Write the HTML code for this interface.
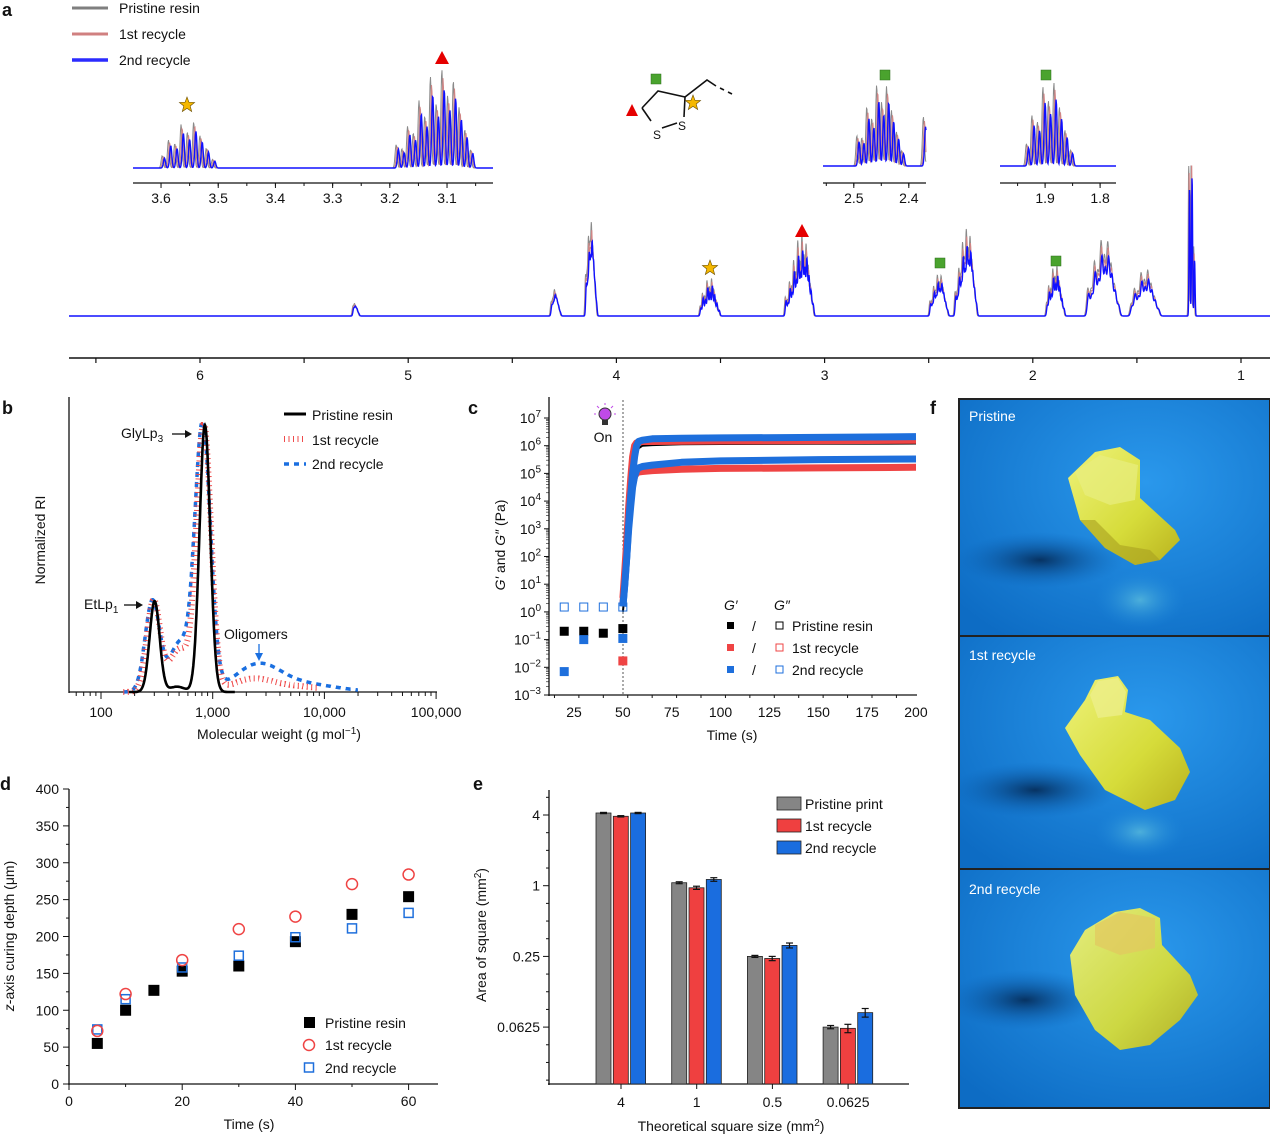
<!DOCTYPE html>
<html><head><meta charset="utf-8">
<style>
html,body{margin:0;padding:0;background:#fff;}
svg{display:block;font-family:"Liberation Sans",Arial,sans-serif;}
text{fill:#111;}
</style></head>
<body>
<svg id="fig" width="1270" height="1134" viewBox="0 0 1270 1134" xmlns="http://www.w3.org/2000/svg">
<defs>
<radialGradient id="bg1" cx="0.6" cy="0.35" r="0.8"><stop offset="0" stop-color="#2a98ec"/><stop offset="1" stop-color="#0d6cc4"/></radialGradient>
<linearGradient id="boat" x1="0" y1="0" x2="1" y2="1"><stop offset="0" stop-color="#eef27a"/><stop offset="0.6" stop-color="#d6dc3a"/><stop offset="1" stop-color="#b9b21e"/></linearGradient>
<radialGradient id="shad" cx="0.5" cy="0.5" r="0.5"><stop offset="0" stop-color="#052a55" stop-opacity="0.9"/><stop offset="1" stop-color="#0b62b8" stop-opacity="0"/></radialGradient>
<radialGradient id="refl" cx="0.5" cy="0.5" r="0.5"><stop offset="0" stop-color="#6fd0e0" stop-opacity="0.6"/><stop offset="1" stop-color="#1f8ce0" stop-opacity="0"/></radialGradient>
<clipPath id="c1"><rect x="960" y="400" width="309" height="235"/></clipPath>
<clipPath id="c2"><rect x="960" y="637" width="309" height="231"/></clipPath>
<clipPath id="c3"><rect x="960" y="870" width="309" height="237"/></clipPath>
</defs>

<text x="2" y="16" font-size="18" font-weight="bold">a</text>
<text x="2" y="414" font-size="18" font-weight="bold">b</text>
<text x="468" y="414" font-size="18" font-weight="bold">c</text>
<text x="930" y="414" font-size="18" font-weight="bold">f</text>
<text x="0" y="790" font-size="18" font-weight="bold">d</text>
<text x="473" y="790" font-size="18" font-weight="bold">e</text>

<g>
<line x1="72" y1="8" x2="108" y2="8" stroke="#7f7f7f" stroke-width="3"/>
<text x="119" y="13" font-size="14">Pristine resin</text>
<line x1="72" y1="34" x2="108" y2="34" stroke="#d08080" stroke-width="3"/>
<text x="119" y="39" font-size="14">1st recycle</text>
<line x1="72" y1="60" x2="108" y2="60" stroke="#2b2bff" stroke-width="3.5"/>
<text x="119" y="65" font-size="14">2nd recycle</text>
</g>

<g stroke="#111" stroke-width="1.6" fill="none">
<polyline points="642,108 658,91 685,97 684,117"/>
<polyline points="642,108 651,121"/>
<line x1="662" y1="128" x2="677" y2="123"/>
<polyline points="685,97 707,80 716,86"/>
<line x1="720" y1="88" x2="724" y2="90"/><line x1="728" y1="92" x2="732" y2="94"/>
</g>
<text x="653" y="139" font-size="12">S</text>
<text x="678" y="130" font-size="12">S</text>
<rect x="651" y="74" width="10" height="10" fill="#4aa32e" stroke="#2d6d1a" stroke-width="0.5"/>
<polygon points="632,104 638,116 626,116" fill="#e50000"/>
<g id="nmr"></g>
<g id="marks-a"></g>

<g id="gpc"></g>
<g id="rheo"></g>
<g id="depth"></g>
<g id="bars"></g>

<g>
<rect x="958" y="398" width="312" height="711" fill="#222"/>
<g clip-path="url(#c1)">
<rect x="960" y="400" width="309" height="235" fill="url(#bg1)"/>
<ellipse cx="1040" cy="560" rx="85" ry="28" fill="url(#shad)"/>
<ellipse cx="1140" cy="600" rx="45" ry="30" fill="url(#refl)"/>
<path d="M1068,478 L1095,452 L1120,447 L1140,460 L1140,498 L1175,530 L1180,540 L1160,560 L1135,565 L1105,548 L1080,520 Z" fill="url(#boat)"/>
<path d="M1075,472 L1100,455 L1138,465 L1135,500 L1110,505 L1085,495 Z" fill="#e8ee80" opacity="0.7"/>
<path d="M1080,520 L1105,548 L1135,565 L1160,560 L1150,550 L1120,545 L1095,520 Z" fill="#a8a020" opacity="0.6"/>
<text x="969" y="421" font-size="14" style="fill:#fff">Pristine</text>
</g>
<g clip-path="url(#c2)">
<rect x="960" y="637" width="309" height="231" fill="url(#bg1)"/>
<ellipse cx="1035" cy="790" rx="85" ry="28" fill="url(#shad)"/>
<ellipse cx="1140" cy="832" rx="45" ry="26" fill="url(#refl)"/>
<path d="M1085,700 L1095,680 L1118,676 L1128,690 L1125,712 L1150,720 L1180,748 L1190,772 L1175,800 L1145,810 L1105,790 L1080,755 L1065,728 Z" fill="url(#boat)"/>
<path d="M1090,695 L1098,681 L1118,678 L1126,692 L1122,715 L1098,718 Z" fill="#eef090" opacity="0.7"/>
<text x="969" y="660" font-size="14" style="fill:#fff">1st recycle</text>
</g>
<g clip-path="url(#c3)">
<rect x="960" y="870" width="309" height="237" fill="url(#bg1)"/>
<ellipse cx="1025" cy="1000" rx="80" ry="30" fill="url(#shad)"/>
<path d="M1085,930 L1115,912 L1140,908 L1160,918 L1162,945 L1190,975 L1198,995 L1180,1020 L1150,1045 L1120,1050 L1095,1030 L1075,995 L1070,955 Z" fill="url(#boat)" opacity="0.95"/>
<path d="M1095,925 L1120,912 L1155,918 L1155,948 L1120,955 L1095,945 Z" fill="#e3c860" opacity="0.7"/>
<text x="969" y="894" font-size="14" style="fill:#fff">2nd recycle</text>
</g>
</g>
</svg>

<script>
// ================= Panel a: NMR data =================
const groupCenters = [5.25, 4.29, 4.12, 3.55, 3.12, 2.45, 2.32, 1.89, 1.66, 1.46, 1.235];
const groupHeights = [12, 20, 72, 32, 72, 34, 72, 42, 64, 38, 240];
const groupCounts  = [4, 6, 8, 9, 14, 10, 12, 9, 10, 9, 3];
const groupSpacing = [0.008, 0.008, 0.007, 0.011, 0.010, 0.009, 0.009, 0.010, 0.016, 0.016, 0.012];
const groupWidth   = [0.0018, 0.0018, 0.0015, 0.0018, 0.0018, 0.0018, 0.0018, 0.0018, 0.003, 0.003, 0.0012];
const linePattern = [0.35,0.6,0.8,1,0.75,0.95,0.6,0.85,0.5,0.7,0.4,0.55,0.3,0.45,0.6,0.4];
const seriesNames = ['pristine','first-recycle','second-recycle'];
const seriesShift = [0.004, 0.002, 0];
const seriesScale = [1.15, 1.05, 0.92];
const seriesColor = ['#8a8a8a','#d08585','#1010ff'];
const seriesWidth = [1, 1, 1.4];
const mainTicks = [6,5,4,3,2,1];
const inset1Ticks = [3.6,3.5,3.4,3.3,3.2,3.1];
const inset2Ticks = [2.5,2.4];
const inset3Ticks = [1.9,1.8];

const NS='http://www.w3.org/2000/svg';
function mk(tag, attrs, parent){const e=document.createElementNS(NS,tag);for(const k in attrs)e.setAttribute(k,attrs[k]);if(parent)parent.appendChild(e);return e;}
function txt(parent,x,y,s,size,anchor){const t=mk('text',{x:x,y:y,'font-size':size||14,'text-anchor':anchor||'middle'},parent);t.textContent=s;return t;}

function specVal(ppm, si, widthScale){
  let v=0;
  for(let g=0; g<groupCenters.length; g++){
    const n=groupCounts[g], sp=groupSpacing[g], c=groupCenters[g]+seriesShift[si];
    if(Math.abs(ppm-c) > n*sp) continue;
    const w=groupWidth[g]*widthScale;
    for(let k=0;k<n;k++){
      const off=k-(n-1)/2;
      const p=c+off*sp;
      const d=(ppm-p)/w;
      if(Math.abs(d)>5) continue;
      const env=Math.exp(-0.5*Math.pow(off/(n/2.6),2));
      v+=groupHeights[g]*seriesScale[si]*linePattern[k%linePattern.length]*env*Math.exp(-0.5*d*d);
    }
  }
  return v;
}
const nmr=document.getElementById('nmr');
function drawSpectrum(x0,x1,ppmAtX0,pxPerPpm,baseY,hScale,widthScale,step,name){
  const g=mk('g',{},nmr);
  
  
  for(let si=0; si<3; si++){
    let d='';
    for(let x=x0; x<=x1; x+=step){
      const ppm=ppmAtX0-(x-x0)/pxPerPpm;
      const y=baseY-Math.min(specVal(ppm,si,widthScale)*hScale, 150);
      d+=(d?'L':'M')+x.toFixed(2)+','+y.toFixed(2);
    }
    const p=mk('path',{d:d,fill:'none',stroke:seriesColor[si],'stroke-width':seriesWidth[si]},g);
    
    
  }
}
const mainX=p=>200+(6-p)*208.2;
drawSpectrum(69,1270,6+(200-69)/208.2,208.2,316,1.05,2.0,0.25,'nmr-main-spectrum');
const ax=mk('g',{},nmr);


mk('line',{x1:69,y1:358,x2:1270,y2:358,stroke:'#111','stroke-width':1.5},ax);
for(let v=6.5; v>=0.9; v-=0.5){const x=mainX(v); if(x<69||x>1270)continue; mk('line',{x1:x,y1:358,x2:x,y2:363,stroke:'#111','stroke-width':1.2},ax);}
mainTicks.forEach(t=>txt(ax,mainX(t),380,String(t),14));

function drawInset(xa,xb,ppmA,pxPer,baseY,axisY,hScale,ticks,name){
  drawSpectrum(xa,xb,ppmA,pxPer,baseY,hScale,1.0,0.5,name);
  const g=mk('g',{},nmr);
  
  
  mk('line',{x1:xa,y1:axisY,x2:xb,y2:axisY,stroke:'#111','stroke-width':1.2},g);
  const X=p=>xa+(ppmA-p)*pxPer;
  for(let v=Math.floor(ppmA*20)/20; X(v)<=xb; v-=0.05){if(X(v)<xa)continue;mk('line',{x1:X(v),y1:axisY,x2:X(v),y2:axisY+3,stroke:'#111'},g);}
  ticks.forEach(t=>{mk('line',{x1:X(t),y1:axisY,x2:X(t),y2:axisY+5,stroke:'#111'},g);txt(g,X(t),203,t.toFixed(1),14);});
}
drawInset(133,493,3.649,572,168,183,1.3,inset1Ticks,'nmr-inset-3p1-3p6');
drawInset(823,926,2.556,550,166,183,2.2,inset2Ticks,'nmr-inset-2p4-2p5');
drawInset(1000,1116,1.982,550,166,183,1.8,inset3Ticks,'nmr-inset-1p8-1p9');

const ma=document.getElementById('marks-a');
function star(cx,cy,r){let pts=[];for(let i=0;i<10;i++){const a=-Math.PI/2+i*Math.PI/5;const rr=i%2?r*0.42:r;pts.push((cx+rr*Math.cos(a)).toFixed(1)+','+(cy+rr*Math.sin(a)).toFixed(1));}const s=mk('polygon',{points:pts.join(' '),fill:'#f5b800',stroke:'#6b4e00','stroke-width':0.6},ma);}
function tri(cx,cy){const s=mk('polygon',{points:`${cx},${cy-7} ${cx+7},${cy+6} ${cx-7},${cy+6}`,fill:'#e50000'},ma);}
function sq(cx,cy){const s=mk('rect',{x:cx-5,y:cy-5,width:10,height:10,fill:'#4aa32e',stroke:'#2d6d1a','stroke-width':0.5},ma);}
star(187,105,8); tri(442,58); star(693,103,8);
star(710,268,8); tri(802,231); sq(940,263); sq(1056,261);
sq(885,75); sq(1046,75);

// ================= Panel b: GPC =================
const gpcPeakLogM   = { pristine:[2.48,2.93,2.68], first:[2.47,2.92,2.70,3.35,3.75], second:[2.46,2.91,2.70,3.40,3.80] };
const gpcPeakHeight = { pristine:[0.34,1.0,0.02], first:[0.34,1.0,0.16,0.045,0.02], second:[0.34,1.0,0.18,0.095,0.03] };
const gpcPeakWidth  = { pristine:[0.045,0.048,0.07], first:[0.06,0.065,0.09,0.18,0.25], second:[0.065,0.07,0.09,0.2,0.3] };
const gpcRange = { pristine:[2.25,3.2], first:[2.2,3.95], second:[2.2,4.3] };
const gpcTicks=[100,1000,10000,100000];
const gpcTickLabels=['100','1,000','10,000','100,000'];
(function(){
  const g=document.getElementById('gpc');
  const X=lm=>101+(lm-2)*111.7, Y=v=>692-v*267;
  mk('line',{x1:69,y1:397,x2:69,y2:693,stroke:'#111','stroke-width':1.3},g);
  const xa=mk('line',{x1:69,y1:692,x2:437,y2:692,stroke:'#111','stroke-width':1.3},g);
   
  for(let dec=1;dec<=5;dec++)for(let m=1;m<10;m++){const lm=dec+Math.log10(m);const x=X(lm);if(x<69||x>437)continue;mk('line',{x1:x,y1:692,x2:x,y2:m===1?699:696,stroke:'#111'},g);}
  gpcTicks.forEach((t,i)=>txt(g,X(Math.log10(t)),717,gpcTickLabels[i],14));
  const xl=mk('text',{x:279,y:739,'font-size':14,'text-anchor':'middle'},g);xl.innerHTML='Molecular weight (g mol<tspan dy="-5" font-size="10">−1</tspan><tspan dy="5">)</tspan>';
   
  const yl=mk('text',{x:0,y:0,'font-size':14,'text-anchor':'middle',transform:'translate(45,540) rotate(-90)'},g);yl.textContent='Normalized RI';
   
  const styles={pristine:{stroke:'#000','stroke-width':2.6},first:{stroke:'#ef4b4b','stroke-width':6,'stroke-dasharray':'1 3.5'},second:{stroke:'#1a6fe0','stroke-width':3.5,'stroke-dasharray':'5 5'}};
  ['second','first','pristine'].forEach(s=>{
    let d='';const [a,b]=gpcRange[s];
    for(let lm=a;lm<=b;lm+=0.004){let v=0;gpcPeakLogM[s].forEach((c,i)=>{const z=(lm-c)/gpcPeakWidth[s][i];v+=gpcPeakHeight[s][i]*Math.exp(-0.5*z*z);});d+=(d?'L':'M')+X(lm).toFixed(1)+','+Y(Math.min(v,1)).toFixed(1);}
    const p=mk('path',Object.assign({d:d,fill:'none'},styles[s]),g);
     
  });
  const t1=mk('text',{x:121,y:438,'font-size':14},g);t1.innerHTML='GlyLp<tspan dy="4" font-size="10">3</tspan>';
  
  mk('line',{x1:172,y1:434,x2:188,y2:434,stroke:'#111','stroke-width':1.3},g);mk('polygon',{points:'192,434 185,430 185,438',fill:'#111'},g);
  const t2=mk('text',{x:84,y:609,'font-size':14},g);t2.innerHTML='EtLp<tspan dy="4" font-size="10">1</tspan>';
  
  mk('line',{x1:124,y1:605,x2:139,y2:605,stroke:'#111','stroke-width':1.3},g);mk('polygon',{points:'143,605 136,601 136,609',fill:'#111'},g);
  const t3=txt(g,224,639,'Oligomers',14,'start');
  mk('line',{x1:259,y1:644,x2:259,y2:656,stroke:'#1a6fe0','stroke-width':1.3},g);mk('polygon',{points:'259,661 255,653 263,653',fill:'#1a6fe0'},g);
  const lg=mk('g',{},g);
  mk('line',{x1:284,y1:414,x2:306,y2:414,stroke:'#000','stroke-width':3},lg);txt(lg,312,420,'Pristine resin',14,'start');
  mk('line',{x1:284,y1:439,x2:306,y2:439,stroke:'#ef4b4b','stroke-width':6,'stroke-dasharray':'1 3.5'},lg);txt(lg,312,445,'1st recycle',14,'start');
  mk('line',{x1:284,y1:464,x2:306,y2:464,stroke:'#1a6fe0','stroke-width':3.5,'stroke-dasharray':'5 5'},lg);txt(lg,312,469,'2nd recycle',14,'start');
})();

// ================= Panel c: rheology =================
const rheoTime = [50,51,52,53,54,55,56,57,58,60,65,80,100,150,200];
const gpPristine  = [0,0.7,1.5,2.5,3.5,4.3,5.0,5.6,5.9,6.0,6.02,6.05,6.06,6.07,6.08];
const gpFirst     = [0.5,1.5,2.6,3.8,4.8,5.6,6.0,6.1,6.12,6.15,6.15,6.16,6.17,6.18,6.2];
const gpSecond    = [0.2,1.0,2.0,3.2,4.2,5.0,5.6,6.0,6.15,6.2,6.25,6.27,6.28,6.3,6.33];
const gppFirst    = [0.3,1.2,2.2,3.2,4.0,4.6,4.9,5.0,5.05,5.07,5.1,5.15,5.18,5.2,5.22];
const gppSecond   = [0.2,1.0,2.0,3.0,3.8,4.5,4.9,5.1,5.2,5.25,5.3,5.4,5.45,5.5,5.52];
const preTime = [20,30,40,50];
const preGpPristine = [0.2,0.2,0.17,0.25];
const preGppAll = [1.5,1.5,1.5,1.5];
const preGpSecond = [0.007,0.1,null,0.11];
const preGpFirst = [null,null,null,0.017];
const rheoTicksX=[25,50,75,100,125,150,175,200];
const rheoTicksYExp=[-3,-2,-1,0,1,2,3,4,5,6,7];
(function(){
  const g=document.getElementById('rheo');
  const X=t=>574+(t-25)*1.954, Y=l=>695-(l+3)*27.7;
  mk('line',{x1:549,y1:397,x2:549,y2:696,stroke:'#111','stroke-width':1.3},g);
  mk('line',{x1:548,y1:695,x2:917,y2:695,stroke:'#111','stroke-width':1.3},g);
  for(let t=15;t<=200;t+=12.5){mk('line',{x1:X(t),y1:695,x2:X(t),y2:t%25===0?701:698,stroke:'#111'},g);}
  rheoTicksX.forEach(t=>txt(g,X(t),717,String(t),14));
  rheoTicksYExp.forEach(e=>{
    mk('line',{x1:549,y1:Y(e),x2:544,y2:Y(e),stroke:'#111'},g);
    for(let m=2;m<10;m++){if(e<7){const y=Y(e+Math.log10(m));mk('line',{x1:549,y1:y,x2:546,y2:y,stroke:'#111','stroke-width':0.6},g);}}
    const t=mk('text',{x:541,y:Y(e)+5,'font-size':14,'text-anchor':'end'},g);t.innerHTML='10<tspan dy="-6" font-size="10">'+(e<0?'−'+(-e):e)+'</tspan>';
  });
  const xl=txt(g,732,740,'Time (s)',14);
  const yl=mk('text',{x:0,y:0,'font-size':14,'text-anchor':'middle',transform:'translate(505,545) rotate(-90)'},g);
  yl.innerHTML='<tspan font-style="italic">G′</tspan> and <tspan font-style="italic">G″</tspan> (Pa)';
  
  mk('line',{x1:623,y1:400,x2:623,y2:695,stroke:'#555','stroke-width':1,'stroke-dasharray':'2 2'},g);
  const b=mk('g',{},g);
  mk('circle',{cx:605,cy:414,r:6,fill:'#c04ae8',stroke:'#333','stroke-width':1},b);
  mk('rect',{x:602,y:420,width:6,height:5,fill:'#333'},b);
  [[-11,414,-9,414],[11,414,9,414],[-8,406,-6,408],[8,406,6,408],[0,403,0,405]].forEach(q=>mk('line',{x1:605+q[0],y1:q[1],x2:605+q[2],y2:q[3],stroke:'#c04ae8','stroke-width':1},b));
  txt(b,603,442,'On',14);
  function line(arr,color,w,name){let d='';rheoTime.forEach((t,i)=>{d+=(d?'L':'M')+X(t).toFixed(1)+','+Y(arr[i]).toFixed(1);});const p=mk('path',{d:d,fill:'none',stroke:color,'stroke-width':w,'stroke-linejoin':'round'},g);}
  line(gppFirst,'#ef4444',7,'gpp-first-recycle');
  line(gppSecond,'#1e6fdc',7,'gpp-second-recycle');
  line(gpPristine,'#000',2,'gp-pristine');
  line(gpFirst,'#ef4444',7,'gp-first-recycle');
  line(gpSecond,'#1e6fdc',7,'gp-second-recycle');
  function pt(t,v,fill,stroke,name){if(v===null)return;const r=mk('rect',{x:X(t)-4,y:Y(Math.log10(v))-4,width:8,height:8,fill:fill,stroke:stroke,'stroke-width':1},g);}
  preTime.forEach((t,i)=>{pt(t,preGppAll[i],'none','#1e6fdc','gpp-point');pt(t,preGpPristine[i],'#000','#000','gp-pristine-point');pt(t,preGpSecond[i],'#1e6fdc','#1e6fdc','gp-second-point');pt(t,preGpFirst[i],'#ef4444','#ef4444','gp-first-point');});
  const lg=mk('g',{},g);
  const a=mk('text',{x:724,y:610,'font-size':14,'font-style':'italic'},lg);a.textContent='G′';
  const bb=mk('text',{x:774,y:610,'font-size':14,'font-style':'italic'},lg);bb.textContent='G″';
  [['#000','Pristine resin',626],['#ef4444','1st recycle',648],['#1e6fdc','2nd recycle',670]].forEach(r=>{
    mk('rect',{x:727,y:r[2]-4,width:7,height:7,fill:r[0]},lg);
    txt(lg,754,r[2]+5,'/',14);
    mk('rect',{x:776,y:r[2]-4,width:7,height:7,fill:'none',stroke:r[0]},lg);
    txt(lg,792,r[2]+5,r[1],14,'start');
  });
})();

// ================= Panel d: curing depth =================
const depthTime = [5,10,15,20,30,40,50,60];
const depthPristine = [55,100,127,153,160,193,230,254];
const depthFirstTime = [5,10,20,30,40,50,60];
const depthFirst = [72,122,168,210,227,271,284];
const depthSecondTime = [5,10,20,30,40,50,60];
const depthSecond = [74,115,158,174,199,211,232];
const depthTicksY=[0,50,100,150,200,250,300,350,400];
const depthTicksX=[0,20,40,60];
(function(){
  const g=document.getElementById('depth');
  const X=t=>69+t*5.66, Y=v=>1084-v*0.7375;
  mk('line',{x1:69,y1:789,x2:69,y2:1085,stroke:'#111','stroke-width':1.3},g);
  mk('line',{x1:68,y1:1084,x2:438,y2:1084,stroke:'#111','stroke-width':1.3},g);
  for(let v=0;v<=400;v+=25){mk('line',{x1:69,y1:Y(v),x2:v%50===0?63:66,y2:Y(v),stroke:'#111'},g);}
  depthTicksY.forEach(v=>txt(g,59,Y(v)+5,String(v),14,'end'));
  for(let t=0;t<=65;t+=10){mk('line',{x1:X(t),y1:1084,x2:X(t),y2:t%20===0?1090:1087,stroke:'#111'},g);}
  depthTicksX.forEach(t=>txt(g,X(t),1106,String(t),14));
  const xl=txt(g,249,1129,'Time (s)',14);
  const yl=mk('text',{x:0,y:0,'font-size':14,'text-anchor':'middle',transform:'translate(14,936) rotate(-90)'},g);
  yl.innerHTML='<tspan font-style="italic">z</tspan>-axis curing depth (μm)';
  
  depthTime.forEach((t,i)=>{const r=mk('rect',{x:X(t)-5.5,y:Y(depthPristine[i])-5.5,width:11,height:11,fill:'#000'},g);});
  depthSecondTime.forEach((t,i)=>{const r=mk('rect',{x:X(t)-4.5,y:Y(depthSecond[i])-4.5,width:9,height:9,fill:'none',stroke:'#1e6fdc','stroke-width':1.5},g);});
  depthFirstTime.forEach((t,i)=>{const c=mk('circle',{cx:X(t),cy:Y(depthFirst[i]),r:5.5,fill:'none',stroke:'#ef4444','stroke-width':1.5},g);});
  const lg=mk('g',{},g);
  mk('rect',{x:304,y:1017,width:11,height:11,fill:'#000'},lg);txt(lg,325,1028,'Pristine resin',14,'start');
  mk('circle',{cx:309,cy:1045,r:5.5,fill:'none',stroke:'#ef4444','stroke-width':1.5},lg);txt(lg,325,1050,'1st recycle',14,'start');
  mk('rect',{x:304.5,y:1063,width:9,height:9,fill:'none',stroke:'#1e6fdc','stroke-width':1.5},lg);txt(lg,325,1073,'2nd recycle',14,'start');
})();

// ================= Panel e: bars =================
const barCategories=['4','1','0.5','0.0625'];
const barPristine=[4.16,1.06,0.25,0.0625];
const barFirst=[3.9,0.96,0.24,0.061];
const barSecond=[4.16,1.13,0.31,0.083];
const errPristine=[0.05,0.02,0.005,0.002];
const errFirst=[0.05,0.03,0.01,0.005];
const errSecond=[0.05,0.04,0.015,0.007];
const barTicks=[4,1,0.25,0.0625];
const barTickLabels=['4','1','0.25','0.0625'];
(function(){
  const g=document.getElementById('bars');
  const Y=v=>815-(Math.log2(v)-2)*35.35;
  const GX=i=>621+i*75.7;
  mk('line',{x1:549,y1:790,x2:549,y2:1085,stroke:'#111','stroke-width':1.3},g);
  mk('line',{x1:548,y1:1084,x2:909,y2:1084,stroke:'#111','stroke-width':1.3},g);
  for(let k=-6;k<=2.5;k+=0.5){const y=815-(k-2)*35.35;if(y<792||y>1084)continue;mk('line',{x1:549,y1:y,x2:Number.isInteger(k/2)?543:546,y2:y,stroke:'#111'},g);}
  barTicks.forEach((v,i)=>txt(g,540,Y(v)+5,barTickLabels[i],14,'end'));
  const series=[[barPristine,errPristine,'#858585','pristine'],[barFirst,errFirst,'#ef4040','first-recycle'],[barSecond,errSecond,'#1a6ddf','second-recycle']];
  barCategories.forEach((c,i)=>{
    series.forEach((s,j)=>{
      const x=GX(i)-25+j*17.3, y=Y(s[0][i]);
      const r=mk('rect',{x:x,y:y,width:15,height:1084-y,fill:s[2],stroke:'#222','stroke-width':0.8},g);
      
      const y1=Y(s[0][i]+s[1][i]), y2=Y(Math.max(s[0][i]-s[1][i],0.001)), cx=x+7.5;
      mk('line',{x1:cx,y1:y1,x2:cx,y2:y2,stroke:'#111','stroke-width':1.2},g);
      mk('line',{x1:cx-3.5,y1:y1,x2:cx+3.5,y2:y1,stroke:'#111','stroke-width':1.2},g);
      mk('line',{x1:cx-3.5,y1:y2,x2:cx+3.5,y2:y2,stroke:'#111','stroke-width':1.2},g);
    });
    mk('line',{x1:GX(i),y1:1084,x2:GX(i),y2:1089,stroke:'#111'},g);
    txt(g,GX(i),1107,c,14);
  });
  const xl=mk('text',{x:731,y:1131,'font-size':14,'text-anchor':'middle'},g);xl.innerHTML='Theoretical square size (mm<tspan dy="-5" font-size="10">2</tspan><tspan dy="5">)</tspan>';
  
  const yl=mk('text',{x:0,y:0,'font-size':14,'text-anchor':'middle',transform:'translate(486,935) rotate(-90)'},g);
  yl.innerHTML='Area of square (mm<tspan dy="-5" font-size="10">2</tspan><tspan dy="5">)</tspan>';
  
  const lg=mk('g',{},g);
  [['#858585','Pristine print',797],['#ef4040','1st recycle',819],['#1a6ddf','2nd recycle',841]].forEach(r=>{
    mk('rect',{x:777,y:r[2],width:24,height:13,fill:r[0],stroke:'#222','stroke-width':0.8},lg);
    txt(lg,805,r[2]+12,r[1],14,'start');
  });
})();
</script>
</body></html>
